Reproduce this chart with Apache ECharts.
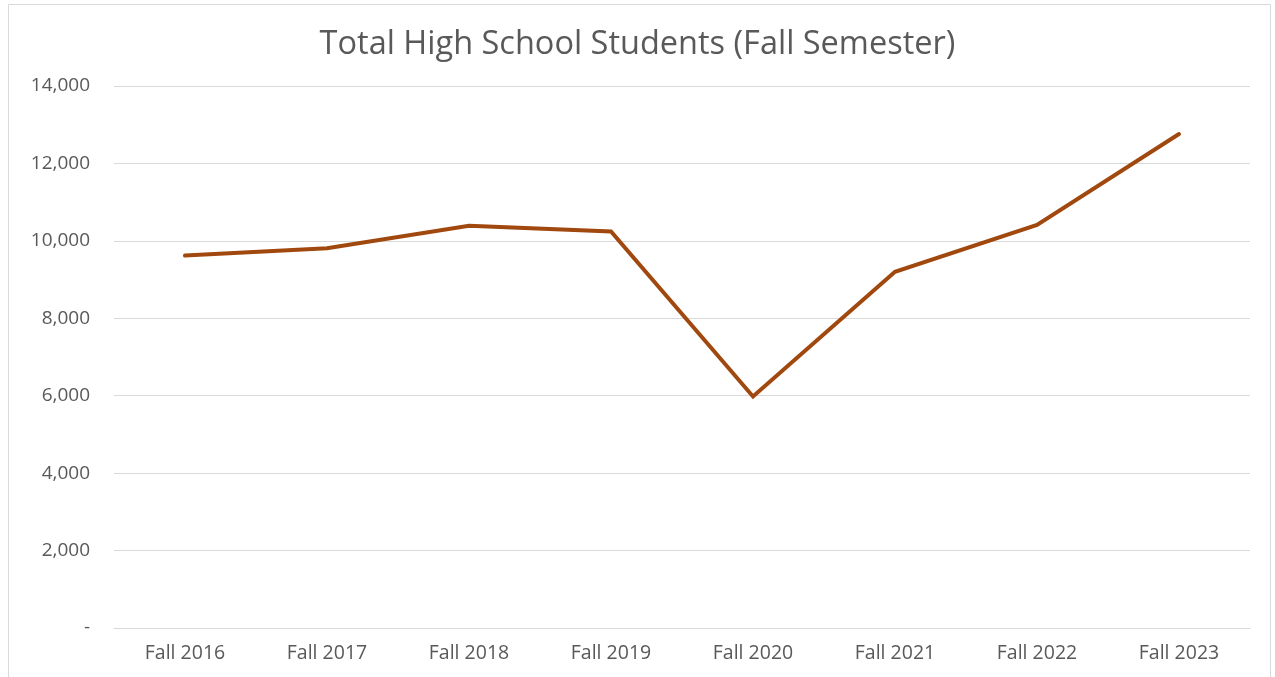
<!DOCTYPE html>
<html><head><meta charset="utf-8">
<script src="https://cdn.jsdelivr.net/npm/echarts@6/dist/echarts.min.js"></script>
<style>html,body{margin:0;padding:0;background:#fff}#c{width:1275px;height:677px}</style>
</head><body><div id="c"></div>
<script>
const categories = ["Fall 2016","Fall 2017","Fall 2018","Fall 2019","Fall 2020","Fall 2021","Fall 2022","Fall 2023"];
const students = [9620, 9810, 10390, 10240, 5980, 9200, 10410, 12760];
const titleText = "Total High School Students (Fall Semester)";

const chart = echarts.init(document.getElementById('c'), null, {renderer:'canvas'});
const fontFam = '"Open Sans", Lato, sans-serif';
chart.setOption({
  animation:false,
  backgroundColor:'#fff',
  graphic:[{type:'rect',shape:{x:8.5,y:4.5,width:1262,height:700},style:{fill:'none',stroke:'#d9d9d9',lineWidth:1},silent:true}],
  title:{text:titleText,left:'center',top:23,textStyle:{fontFamily:fontFam,fontSize:32.5,fontWeight:'normal',color:'#595959'}},
  grid:{left:114,right:25,top:86,bottom:49,containLabel:false},
  xAxis:{type:'category',data:categories,boundaryGap:true,
    axisLine:{show:true,lineStyle:{color:'#d9d9d9',width:1}},
    axisTick:{show:false},
    axisLabel:{fontFamily:fontFam,fontSize:19.5,color:'#595959',margin:15}},
  yAxis:{type:'value',min:0,max:14000,interval:2000,
    axisLine:{show:false},axisTick:{show:false},
    splitLine:{lineStyle:{color:'#d9d9d9',width:1}},
    axisLabel:{fontFamily:fontFam,fontSize:19,color:'#595959',margin:24,
      formatter:v=> v===0 ? '-' : v.toLocaleString('en-US')}},
  series:[{type:'line',data:students,showSymbol:false,symbol:'none',
    lineStyle:{color:'#A0480E',width:4,cap:'round',join:'miter'}}]
});
</script></body></html>
